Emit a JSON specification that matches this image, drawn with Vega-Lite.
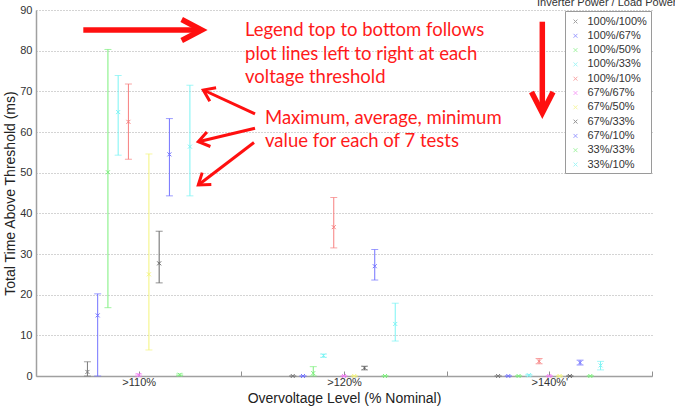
{
  "$schema": "https://vega.github.io/schema/vega-lite/v6.json",
  "width": 616,
  "height": 366,
  "autosize": {"type": "none"},
  "padding": {"left": 36, "top": 10, "right": 23, "bottom": 32},
  "background": "white",
  "config": {
    "view": {"stroke": null},
    "font": "Liberation Sans",
    "axis": {
      "domainColor": "#a0a0a0",
      "domainWidth": 1.5,
      "tickColor": "#909090",
      "labelColor": "#333333",
      "labelFontSize": 11,
      "labelFont": "Liberation Sans",
      "titleFont": "Liberation Sans",
      "titleFontSize": 14,
      "titleFontWeight": "normal",
      "titleColor": "#222222"
    }
  },
  "datasets": {
    "tests": [
      {"level": ">110%", "test": "100%/100%", "min": 0, "avg": 1.0, "max": 3.5},
      {"level": ">110%", "test": "100%/67%", "min": 0, "avg": 14.9, "max": 20.2},
      {"level": ">110%", "test": "100%/50%", "min": 16.8, "avg": 50.1, "max": 80.3},
      {"level": ">110%", "test": "100%/33%", "min": 54.3, "avg": 64.9, "max": 73.9},
      {"level": ">110%", "test": "100%/10%", "min": 53.3, "avg": 62.5, "max": 71.8},
      {"level": ">110%", "test": "67%/67%", "min": 0, "avg": 0.2, "max": 0.5},
      {"level": ">110%", "test": "67%/50%", "min": 6.4, "avg": 25.0, "max": 54.6},
      {"level": ">110%", "test": "67%/33%", "min": 22.9, "avg": 27.7, "max": 35.6},
      {"level": ">110%", "test": "67%/10%", "min": 44.3, "avg": 54.5, "max": 63.3},
      {"level": ">110%", "test": "33%/33%", "min": 0.1, "avg": 0.3, "max": 0.5},
      {"level": ">110%", "test": "33%/10%", "min": 44.3, "avg": 56.4, "max": 71.5},
      {"level": ">120%", "test": "100%/100%", "min": 0, "avg": 0, "max": 0},
      {"level": ">120%", "test": "100%/67%", "min": 0, "avg": 0, "max": 0},
      {"level": ">120%", "test": "100%/50%", "min": 0, "avg": 0.7, "max": 2.3},
      {"level": ">120%", "test": "100%/33%", "min": 4.6, "avg": 5.0, "max": 5.4},
      {"level": ">120%", "test": "100%/10%", "min": 31.5, "avg": 36.6, "max": 43.9},
      {"level": ">120%", "test": "67%/67%", "min": 0, "avg": 0, "max": 0},
      {"level": ">120%", "test": "67%/50%", "min": 0, "avg": 0, "max": 0},
      {"level": ">120%", "test": "67%/33%", "min": 1.5, "avg": 2.0, "max": 2.4},
      {"level": ">120%", "test": "67%/10%", "min": 23.6, "avg": 27.0, "max": 31.1},
      {"level": ">120%", "test": "33%/33%", "min": 0, "avg": 0, "max": 0},
      {"level": ">120%", "test": "33%/10%", "min": 8.6, "avg": 12.8, "max": 17.9},
      {"level": ">140%'", "test": "100%/100%", "min": 0, "avg": 0, "max": 0},
      {"level": ">140%'", "test": "100%/67%", "min": 0, "avg": 0, "max": 0},
      {"level": ">140%'", "test": "100%/50%", "min": 0, "avg": 0, "max": 0},
      {"level": ">140%'", "test": "100%/33%", "min": 0, "avg": 0.2, "max": 0.4},
      {"level": ">140%'", "test": "100%/10%", "min": 3.0, "avg": 3.6, "max": 4.3},
      {"level": ">140%'", "test": "67%/67%", "min": 0, "avg": 0, "max": 0},
      {"level": ">140%'", "test": "67%/50%", "min": 0, "avg": 0, "max": 0},
      {"level": ">140%'", "test": "67%/33%", "min": 0, "avg": 0, "max": 0},
      {"level": ">140%'", "test": "67%/10%", "min": 2.7, "avg": 3.3, "max": 3.9},
      {"level": ">140%'", "test": "33%/33%", "min": 0, "avg": 0, "max": 0},
      {"level": ">140%'", "test": "33%/10%", "min": 1.5, "avg": 2.6, "max": 3.6}
    ],
    "bigArrows": [
      {"seg": "right-shaft", "k": 0, "x": 0.7304, "y": 85.08},
      {"seg": "right-shaft", "k": 1, "x": 1.2890, "y": 85.08},
      {"seg": "right-head", "k": 0, "x": 1.2096, "y": 87.66},
      {"seg": "right-head", "k": 1, "x": 1.3070, "y": 85.08},
      {"seg": "right-head", "k": 2, "x": 1.2096, "y": 82.50},
      {"seg": "down-shaft", "k": 0, "x": 2.9658, "y": 87.12},
      {"seg": "down-shaft", "k": 1, "x": 2.9658, "y": 65.65},
      {"seg": "down-head", "k": 0, "x": 2.9132, "y": 69.84},
      {"seg": "down-head", "k": 1, "x": 2.9658, "y": 64.67},
      {"seg": "down-head", "k": 2, "x": 3.0179, "y": 69.84}
    ],
    "smallArrows": [
      {"seg": "max-shaft", "k": 0, "x": 1.5666, "y": 64.43},
      {"seg": "max-shaft", "k": 1, "x": 1.3148, "y": 70.33},
      {"seg": "max-head", "k": 0, "x": 1.3464, "y": 67.55},
      {"seg": "max-head", "k": 1, "x": 1.3148, "y": 70.33},
      {"seg": "max-head", "k": 2, "x": 1.3771, "y": 70.89},
      {"seg": "avg-shaft", "k": 0, "x": 1.5666, "y": 60.91},
      {"seg": "avg-shaft", "k": 1, "x": 1.2904, "y": 57.61},
      {"seg": "avg-head", "k": 0, "x": 1.3494, "y": 56.43},
      {"seg": "avg-head", "k": 1, "x": 1.2904, "y": 57.61},
      {"seg": "avg-head", "k": 2, "x": 1.3323, "y": 60.00},
      {"seg": "min-shaft", "k": 0, "x": 1.5617, "y": 57.42},
      {"seg": "min-shaft", "k": 1, "x": 1.2904, "y": 46.97},
      {"seg": "min-head", "k": 0, "x": 1.3538, "y": 47.09},
      {"seg": "min-head", "k": 1, "x": 1.2904, "y": 46.97},
      {"seg": "min-head", "k": 2, "x": 1.3094, "y": 50.02}
    ],
    "notes": [
      {"x": 1.5179, "y": 83.61, "line": "Legend top to bottom follows"},
      {"x": 1.5179, "y": 77.70, "line": "plot lines left to right at each"},
      {"x": 1.5179, "y": 72.05, "line": "voltage threshold"},
      {"x": 1.6153, "y": 61.97, "line": "Maximum, average, minimum"},
      {"x": 1.6153, "y": 56.31, "line": "value for each of 7 tests"}
    ],
    "legendTitle": [
      {"x": 2.94, "y": 91.0, "line": "Inverter Power / Load Power"}
    ]
  },
  "layer": [
    {
      "data": {"name": "tests"},
      "encoding": {
        "x": {
          "field": "level",
          "type": "nominal",
          "scale": {"domain": [">110%", ">120%", ">140%'"], "paddingInner": 0.451, "paddingOuter": 0.2255},
          "axis": null
        },
        "xOffset": {
          "field": "test",
          "type": "nominal",
          "scale": {
            "domain": ["100%/100%", "100%/67%", "100%/50%", "100%/33%", "100%/10%", "67%/67%", "67%/50%", "67%/33%", "67%/10%", "33%/33%", "33%/10%"],
            "paddingInner": 0,
            "paddingOuter": 0
          }
        },
        "color": {
          "field": "test",
          "type": "nominal",
          "scale": {
            "domain": ["100%/100%", "100%/67%", "100%/50%", "100%/33%", "100%/10%", "67%/67%", "67%/50%", "67%/33%", "67%/10%", "33%/33%", "33%/10%"],
            "range": ["#7a7a7a", "#7373ff", "#7cf07c", "#7cf4f4", "#f77f7f", "#f57cf5", "#f4f47a", "#666666", "#7373ff", "#7cf07c", "#7cf4f4"]
          },
          "legend": {
            "title": null,
            "orient": "top-right",
            "offset": 1,
            "padding": 3.5,
            "strokeColor": "#9a9a9a",
            "fillColor": "white",
            "cornerRadius": 0,
            "symbolType": "M-0.3,-0.3L0.3,0.3M-0.3,0.3L0.3,-0.3",
            "symbolSize": 169,
            "symbolStrokeWidth": 1,
            "symbolFillColor": "transparent",
            "rowPadding": 2.3,
            "labelOffset": 5,
            "labelFontSize": 11,
            "labelFont": "Liberation Sans",
            "labelColor": "#333333"
          }
        }
      },
      "layer": [
        {
          "mark": {"type": "rule", "strokeWidth": 1},
          "encoding": {
            "y": {
              "field": "min",
              "type": "quantitative",
              "scale": {"domain": [0, 90], "nice": false},
              "axis": {
                "title": "Total Time Above Threshold (ms)",
                "values": [0, 10, 20, 30, 40, 50, 60, 70, 80, 90],
                "grid": true,
                "gridColor": "#a8a8a8",
                "gridDash": [1, 2],
                "gridWidth": 1,
                "ticks": false,
                "labelPadding": 4,
                "titlePadding": 2
              }
            },
            "y2": {"field": "max"}
          }
        },
        {
          "mark": {"type": "tick", "orient": "horizontal", "size": 7, "thickness": 1},
          "encoding": {"y": {"field": "min", "type": "quantitative"}}
        },
        {
          "mark": {"type": "tick", "orient": "horizontal", "size": 7, "thickness": 1},
          "encoding": {"y": {"field": "max", "type": "quantitative"}}
        },
        {
          "mark": {"type": "point", "shape": "M-1,-1L1,1M-1,1L1,-1", "filled": false, "size": 16, "strokeWidth": 1, "opacity": 1},
          "encoding": {"y": {"field": "avg", "type": "quantitative"}}
        }
      ]
    },
    {
      "encoding": {
        "x": {
          "field": "x",
          "type": "quantitative",
          "scale": {"domain": [0.5, 3.5], "nice": false, "zero": false},
          "axis": {
            "title": "Overvoltage Level (% Nominal)",
            "values": [1, 1.5, 2, 2.5, 3, 3.5],
            "labelExpr": "datum.value === 1 ? '>110%' : datum.value === 2 ? '>120%' : datum.value === 3 ? \">140%'\" : ''",
            "grid": false,
            "tickSize": -5,
            "labelPadding": 5,
            "titlePadding": 4
          }
        },
        "y": {"field": "y", "type": "quantitative"}
      },
      "layer": [
        {
          "data": {"name": "bigArrows"},
          "mark": {"type": "line", "color": "#ff1010", "strokeWidth": 5.5, "strokeJoin": "miter", "strokeCap": "butt"},
          "encoding": {"detail": {"field": "seg"}, "order": {"field": "k"}}
        },
        {
          "data": {"name": "smallArrows"},
          "mark": {"type": "line", "color": "#ff1010", "strokeWidth": 3, "strokeJoin": "miter", "strokeCap": "butt"},
          "encoding": {"detail": {"field": "seg"}, "order": {"field": "k"}}
        },
        {
          "data": {"name": "notes"},
          "mark": {"type": "text", "align": "left", "baseline": "alphabetic", "font": "Lato", "fontSize": 18.5, "color": "#ff1a1a"},
          "encoding": {"text": {"field": "line"}}
        },
        {
          "data": {"name": "legendTitle"},
          "mark": {"type": "text", "align": "left", "baseline": "alphabetic", "font": "Liberation Sans", "fontSize": 11, "color": "#333333"},
          "encoding": {"text": {"field": "line"}}
        }
      ]
    }
  ],
  "resolve": {"scale": {"x": "independent"}, "axis": {"x": "independent"}}
}
